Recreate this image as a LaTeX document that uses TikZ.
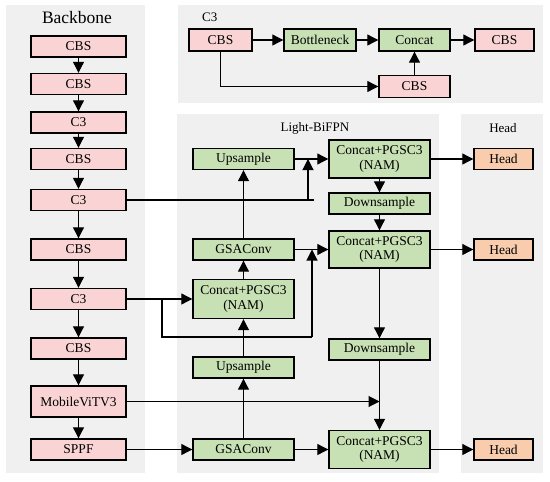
\documentclass[tikz,border=0pt]{standalone}
\usepackage{fontspec}
\setmainfont{Liberation Serif}
\newfontfamily\tnr{Liberation Serif}
\usetikzlibrary{arrows.meta}
\definecolor{panel}{RGB}{240,240,240}
\definecolor{pinkf}{RGB}{250,212,212}
\definecolor{greenf}{RGB}{200,225,180}
\definecolor{orangef}{RGB}{248,204,172}
\tikzset{
  box/.style={draw=black, line width=1.4pt, inner sep=0pt, minimum height=21pt, font=\tnr\fontsize{13.5}{14.5}\selectfont, align=center},
  pbox/.style={box, fill=pinkf},
  gbox/.style={box, fill=greenf},
  hbox/.style={box, fill=orangef, minimum width=59pt},
  bb/.style={pbox, minimum width=95pt},
  col/.style={gbox, minimum width=101pt},
  line/.style={draw=black, line width=1.1pt},
  arr/.style={line, -{Triangle[length=11pt,width=11pt]}},
  ttl/.style={font=\tnr\fontsize{13}{14}\selectfont, inner sep=0pt}
}
\begin{document}
\begin{tikzpicture}[x=1pt,y=-1pt]
\useasboundingbox (0,0) rectangle (550,482);
\fill[white] (0,0) rectangle (550,482);
% panels
\fill[panel] (6,5) rectangle (145,473);
\fill[panel] (178,5) rectangle (543,103);
\fill[panel] (177,114) rectangle (439,473);
\fill[panel] (461,114) rectangle (543,473);
\node[inner sep=0pt, font=\tnr\fontsize{17.5}{19}\selectfont] (tbb) at (77,18) {Backbone};
\node[ttl, anchor=west] (tc3) at (202,17) {C3};
\node[ttl] (tfpn) at (315,128) {Light-BiFPN};
\node[ttl] (thead) at (503,128) {Head};
% backbone
\node[bb] (b1) at (78.5,46.5) {CBS};
\node[bb] (b2) at (78.5,84) {CBS};
\node[bb] (b3) at (78.5,122.5) {C3};
\node[bb] (b4) at (78.5,159) {CBS};
\node[bb] (b5) at (78.5,200) {C3};
\node[bb] (b6) at (78.5,249.5) {CBS};
\node[bb] (b7) at (78.5,299) {C3};
\node[bb] (b8) at (78.5,348.5) {CBS};
\node[bb, minimum height=31pt] (b9) at (78.5,401.5) {MobileViTV3};
\node[bb] (b10) at (78.5,449.5) {SPPF};
\foreach \a/\b in {b1/b2,b2/b3,b3/b4,b4/b5,b5/b6,b6/b7,b7/b8,b8/b9,b9/b10}
  \draw[arr] (\a.south) -- (\b.north);
% C3 panel
\node[pbox, minimum width=63pt, minimum height=22pt] (c1) at (220.5,40) {CBS};
\node[gbox, minimum width=72pt, minimum height=22pt] (bn) at (320,40) {Bottleneck};
\node[gbox, minimum width=71pt, minimum height=22pt] (cc) at (414.5,40) {Concat};
\node[pbox, minimum width=59pt, minimum height=22pt] (c2) at (504.5,40) {CBS};
\node[pbox, minimum width=71pt, minimum height=22pt] (c3) at (414.5,86.5) {CBS};
\draw[arr] (c1) -- (bn);
\draw[arr] (bn) -- (cc);
\draw[arr] (cc) -- (c2);
\draw[arr] (c3) -- (cc);
\draw[arr] (c1.south) |- (c3.west);
% BiFPN
\node[col] (up1) at (243.5,159) {Upsample};
\node[col] (gsa1) at (243.5,249.5) {GSAConv};
\node[col, minimum height=39pt] (cpl) at (243.5,299) {Concat+PGSC3\\(NAM)};
\node[col] (up2) at (243.5,367.5) {Upsample};
\node[col] (gsa2) at (243.5,449.5) {GSAConv};
\node[col, minimum height=38pt] (ct) at (379.5,159) {Concat+PGSC3\\(NAM)};
\node[col] (ds1) at (379.5,203.5) {Downsample};
\node[col, minimum height=37pt] (cm) at (379.5,249.5) {Concat+PGSC3\\(NAM)};
\node[col] (ds2) at (379.5,349.5) {Downsample};
\node[col, minimum height=38pt] (cb) at (379.5,449.5) {Concat+PGSC3\\(NAM)};
% Heads
\node[hbox] (h1) at (503.5,159) {Head};
\node[hbox] (h2) at (503.5,249.5) {Head};
\node[hbox] (h3) at (503.5,449.5) {Head};
% BiFPN connectors
\draw[arr] (gsa2) -- (up2);
\draw[arr] (up2) -- (cpl);
\draw[arr] (cpl) -- (gsa1);
\draw[arr] (gsa1) -- (up1);
\draw[arr] (up1) -- (ct);
\draw[arr] (gsa1) -- (cm);
\draw[arr] (gsa2) -- (cb);
\draw[arr] (ct) -- (ds1);
\draw[arr] (ds1) -- (cm);
\draw[arr] (cm) -- (ds2);
\draw[arr] (ds2) -- (cb);
\draw[arr] (ct) -- (h1);
\draw[arr] (cm) -- (h2);
\draw[arr] (cb) -- (h3);
% backbone to BiFPN
\coordinate (j5e) at (314,200);
\coordinate (j5) at (308,200);
\draw[line] (b5.east) -- (j5e);
\draw[arr] (j5) -- (j5 |- up1.east);
\draw[arr] (b7.east) -- (cpl.west);
\coordinate (j7) at (162,299);
\coordinate (j7b) at (312,337);
\draw[line] (j7) |- (j7b);
\draw[arr] (j7b) -- (j7b |- gsa1.east);
\draw[arr] (b9.east) -- (b9.east -| ds2.south);
\draw[arr] (b10.east) -- (gsa2.west);
\end{tikzpicture}
\end{document}
